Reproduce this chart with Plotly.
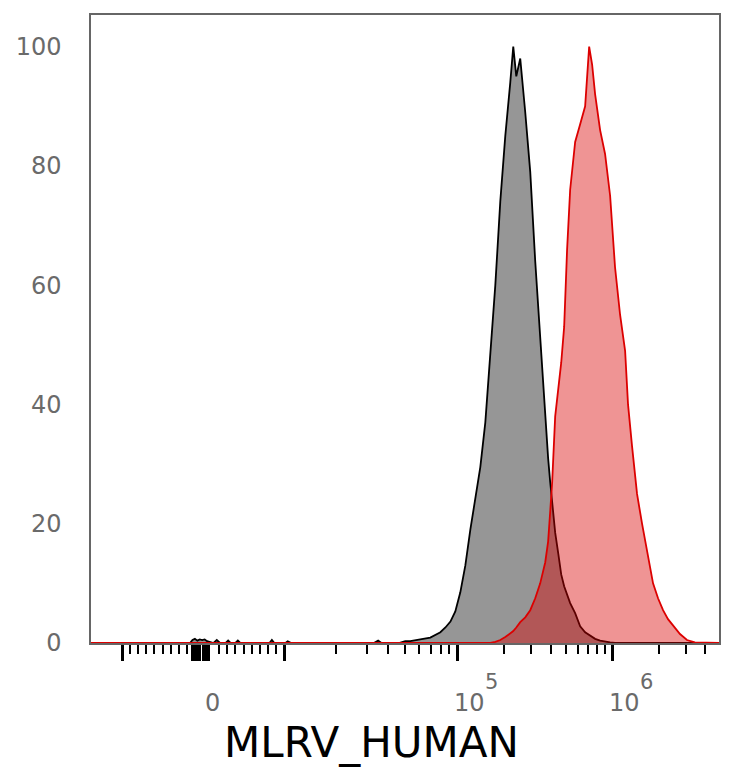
import numpy as np
import plotly.graph_objects as go

# fluorescence intensity at each histogram bin (shared by both samples)
bins = [
    53500, 61100, 69800, 79800, 85300, 91200, 97300, 104500, 112600, 121300,
    130700, 140700, 151600, 163300, 175900, 189400, 204000, 219800, 229800, 240300,
    254900, 274600, 295800, 318600, 343100, 369600, 386000, 398100, 410000, 428800,
    449000, 469000, 490000, 512000, 535900, 577200, 621800, 669700, 711000, 743000,
    777000, 837000, 901000, 971200, 1045000, 1127000, 1214000, 1268000, 1346000, 1450000,
    1562000, 1682000, 1840000, 1982000, 2135000, 2299000, 2477000, 2748000, 3049000, 3430000,
]

# isotype control (black / grey), % of max
control = [
    0.3, 0.6, 0.9, 1.8, 2.6, 3.6, 5.3, 8.5, 13, 19,
    24, 29.5, 37, 48, 60, 74, 85, 94, 100, 95,
    98, 89, 79, 64, 51, 38, 31, 27, 24, 18.5,
    15, 11.5, 9.5, 8, 6.7, 5, 2.8, 1.8, 1.3, 1.0,
    0.7, 0.4, 0.2, 0.1, 0, 0, 0, 0, 0, 0,
    0, 0, 0, 0, 0, 0, 0, 0, 0, 0,
]

# MLRV_HUMAN stained sample (red), % of max
stained = [
    0, 0, 0, 0, 0, 0, 0, 0, 0, 0,
    0, 0, 0, 0, 0.2, 0.5, 1.0, 1.6, 2.0, 2.6,
    3.5, 4.3, 5.5, 7.5, 10, 13.5, 17, 22, 27, 38,
    43, 47, 53, 66, 76, 84, 87, 90, 100, 97,
    92, 86, 82, 75, 63, 55, 49, 40, 33, 25,
    20, 15.6, 10, 7.5, 5.5, 4, 3, 1.5, 0.5, 0.1,
]

# scattered low events of the control near zero
noise_x = [-14000, -1600, -1300, -1000, -700, -400, -100, 200, 500, 900,
           1300, 1700, 2100, 2800, 3100, 3400, 4000, 4300, 4600, 8200,
           8500, 8800, 10200, 10500, 11000, 33000, 34900, 36500, 46000, 50000]
noise_y = [0, 0, 0.5, 0.7, 0.4, 0.6, 0.5, 0.6, 0.3, 0.1,
           0, 0.5, 0, 0, 0.4, 0, 0, 0.4, 0, 0,
           0.5, 0, 0, 0.3, 0, 0, 0.4, 0, 0, 0.3]

y_ticks = [0, 20, 40, 60, 80, 100]
major_ticks = [-10000, -1300, -1000, -700, -400, 0, 300, 700, 10000, 100000, 1000000]
minor_ticks = (
    [-k * 1000 for k in range(2, 10)] + [k * 1000 for k in range(2, 10)]
    + [k * 10000 for k in range(2, 10)] + [k * 100000 for k in range(2, 10)]
    + [k * 1000000 for k in range(2, 6)]
)
# labelled decades: value -> exponent (None = plain "0")
x_labels = {0: None, 100000: "5", 1000000: "6"}

label_font = dict(family="DejaVu Sans", size=24, color="#6a6a6a")


def biex(v):
    # linear around zero, log decades above 1e4 (FlowJo-like display)
    v = np.asarray(v, dtype=float)
    out = v / 1e4
    mid = (v > 1e4) & (v <= 1e5)
    out[mid] = 1 + 2.14 * np.log10(v[mid] / 1e4)
    hi = v > 1e5
    out[hi] = 3.14 + 1.91 * np.log10(v[hi] / 1e5)
    return out


ctrl_x = list(noise_x) + bins + [6000000]
ctrl_y = list(noise_y) + control + [0]
red_x = [-14000] + bins + [6000000]
red_y = [0] + stained + [0]

fig = go.Figure()
fig.add_trace(go.Scatter(
    x=biex(ctrl_x), y=ctrl_y, mode="lines", fill="tozeroy",
    fillcolor="rgb(150,150,150)", line=dict(color="black", width=1.8),
    showlegend=False, hoverinfo="skip",
))
fig.add_trace(go.Scatter(
    x=biex(red_x), y=red_y, mode="lines", fill="tozeroy",
    fillcolor="rgba(218,0,0,0.42)", line=dict(color="rgb(220,0,0)", width=1.8),
    showlegend=False, hoverinfo="skip",
))

for val, exp in x_labels.items():
    xpos = float(biex([val])[0])
    if exp is None:
        fig.add_annotation(
            x=xpos, y=0, xref="x", yref="paper", text="0", showarrow=False,
            yanchor="top", xanchor="center", xshift=9, yshift=-44, font=label_font,
        )
        continue
    fig.add_annotation(
        x=xpos, y=0, xref="x", yref="paper", text="10", showarrow=False,
        yanchor="top", xanchor="center", xshift=12, yshift=-44, font=label_font,
    )
    fig.add_annotation(
        x=xpos, y=0, xref="x", yref="paper", text=exp, showarrow=False,
        yanchor="top", xanchor="center", xshift=34, yshift=-25,
        font=dict(family="DejaVu Sans", size=21, color="#6a6a6a"),
    )

fig.add_annotation(
    x=0.447, y=-0.158, xref="paper", yref="paper", text="MLRV_HUMAN",
    showarrow=False, xanchor="center", yanchor="middle",
    font=dict(family="DejaVu Sans", size=42, color="black"),
)

fig.update_xaxes(
    range=[-1.383, 6.37], showgrid=False, zeroline=False,
    showline=True, mirror=True, linecolor="#666666", linewidth=1.5,
    tickmode="array", tickvals=biex(major_ticks), showticklabels=False,
    ticks="outside", ticklen=16, tickwidth=3, tickcolor="black",
    minor=dict(tickmode="array", tickvals=biex(minor_ticks), ticks="outside",
               ticklen=9, tickwidth=1.5, tickcolor="black", showgrid=False),
)
fig.update_yaxes(
    range=[0, 105.3], showgrid=False, zeroline=False,
    showline=True, mirror=True, linecolor="#666666", linewidth=1.5,
    tickmode="array", tickvals=y_ticks, ticks="", ticklabelstandoff=23,
    tickfont=label_font,
)
fig.update_layout(
    width=734, height=768,
    margin=dict(l=91, r=15, t=15, b=125),
    plot_bgcolor="white", paper_bgcolor="white",
)

# drop the browser's default body margin so the figure sits at (0, 0)
fig.write_html(
    "out.html",
    config={"displayModeBar": False},
    post_script="document.body.style.margin='0px';",
)
